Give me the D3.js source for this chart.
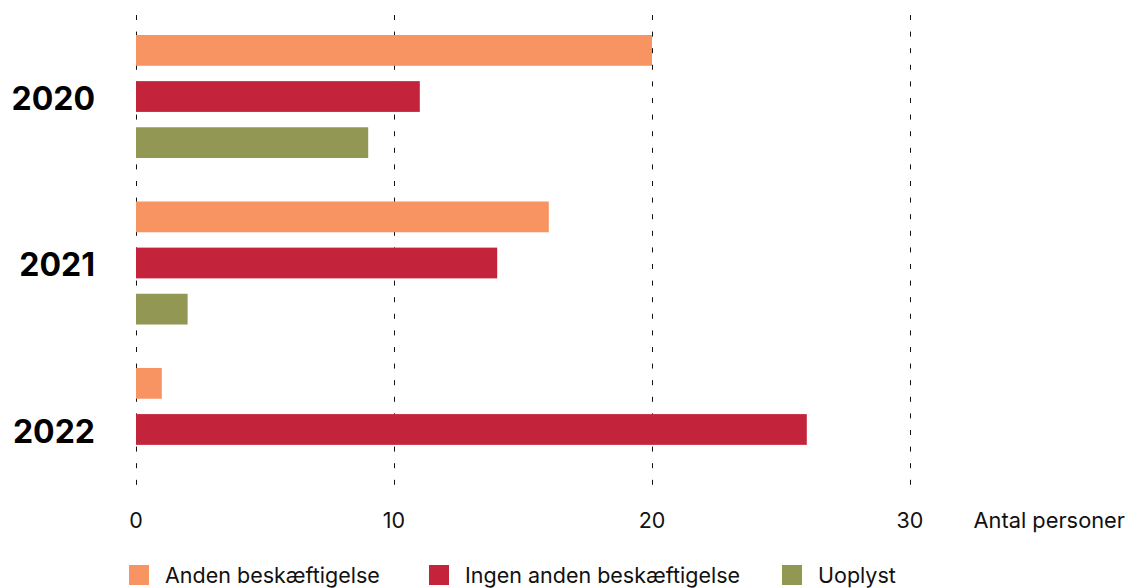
<!DOCTYPE html>
<html><head><meta charset="utf-8">
<script src="https://cdn.jsdelivr.net/npm/d3@7"></script>
<style>body{margin:0;background:#fff;font-family:Inter,"Noto Sans",sans-serif;}</style>
</head><body><svg id="c" width="1128" height="588"></svg>
<script>
const years = ["2020","2021","2022"];
const seriesNames = ["Anden beskæftigelse","Ingen anden beskæftigelse","Uoplyst"];
const anden = [20,16,1];
const ingen = [11,14,26];
const uoplyst = [9,2,0];
const xTicks = [0,10,20,30];
const colors = ["#F79461","#C3243C","#929754"];
const axisTitle = "Antal personer";

const svg = d3.select("#c");
const x = d3.scaleLinear().domain([0,30]).range([136,910]);
const y0 = d3.scaleBand().domain(years).range([35,491]).paddingInner(0.261).paddingOuter(0);
const y1 = d3.scaleBand().domain(seriesNames).range([0,y0.bandwidth()]).paddingInner(0.333).paddingOuter(0);
const vals = [anden, ingen, uoplyst];

// grid
svg.append("g").selectAll("line").data(xTicks).join("line")
  .attr("x1",d=>Math.round(x(d))+0.5).attr("x2",d=>Math.round(x(d))+0.5).attr("y1",15).attr("y2",496)
  .attr("stroke","#111").attr("stroke-width",1).attr("stroke-dasharray","5,11.6");

// bars
years.forEach((yr,i)=>{
  const g = svg.append("g").attr("transform",`translate(0,${y0(yr)})`);
  seriesNames.forEach((s,j)=>{
    const v = vals[j][i];
    if (v>0) g.append("rect").attr("x",x(0)).attr("y",y1(s)).attr("width",x(v)-x(0)).attr("height",y1.bandwidth()).attr("fill",colors[j]);
  });
  svg.append("text").attr("x",95).attr("y",y0(yr)+y0.bandwidth()/2+1.5).attr("dy","0.36em")
    .attr("text-anchor","end").attr("font-size",32).attr("font-weight",700).attr("fill","#000").text(yr);
});

// tick labels
svg.append("g").selectAll("text").data(xTicks).join("text")
  .attr("x",d=>x(d)).attr("y",528).attr("text-anchor","middle").attr("font-size",21.5).attr("fill","#111").text(d=>d);
svg.append("text").attr("x",1125).attr("y",528).attr("text-anchor","end").attr("font-size",21.8).attr("fill","#111").text(axisTitle);

// legend
const legX = [129,429,782];
seriesNames.forEach((s,j)=>{
  svg.append("rect").attr("x",legX[j]).attr("y",565).attr("width",20).attr("height",20).attr("fill",colors[j]);
  svg.append("text").attr("x",legX[j]+36).attr("y",583).attr("font-size",21.5).attr("fill","#111").text(s);
});
</script></body></html>
